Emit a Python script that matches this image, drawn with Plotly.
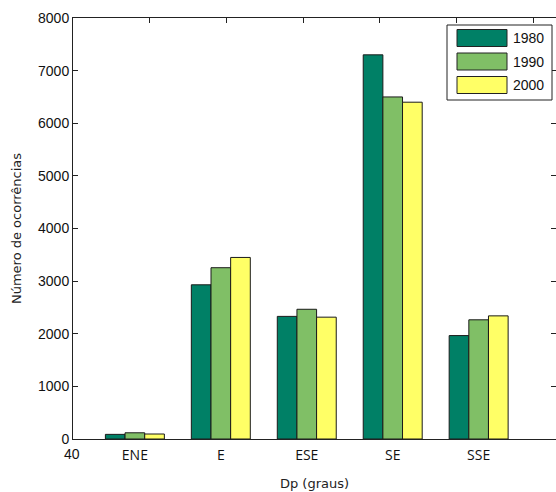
import plotly.graph_objects as go

categories = ["ENE", "E", "ESE", "SE", "SSE"]
years = ["1980", "1990", "2000"]
v1980 = [88, 2930, 2330, 7300, 1965]
v1990 = [118, 3255, 2465, 6500, 2265]
v2000 = [95, 3450, 2315, 6400, 2340]
series = [v1980, v1990, v2000]
colors = ["#008066", "#80bf66", "#ffff66"]
top_ticks = [50, 60, 70, 80, 90, 100]
y_ticks = [0, 1000, 2000, 3000, 4000, 5000, 6000, 7000, 8000]

W, H = 556, 492
L, R, T, B = 73, 0, 18, 53
pw, ph = W - L - R, H - T - B

def px(x):
    return (x - L) / pw

def py(y):
    return (H - B - y) / ph

xpos = list(range(len(categories)))
fig = go.Figure()
for name, vals, col in zip(years, series, colors):
    fig.add_trace(go.Bar(x=xpos, y=vals, name=name, marker=dict(color=col, line=dict(color="#1a1a1a", width=1)), showlegend=False))

fig.add_trace(go.Scatter(x=[40, 100], y=[0, 0], xaxis="x2", mode="markers", marker=dict(opacity=0), showlegend=False, hoverinfo="skip"))
fig.add_trace(go.Scatter(x=[0], y=[0], yaxis="y2", mode="markers", marker=dict(opacity=0), showlegend=False, hoverinfo="skip"))

font = "Liberation Sans, Arial, sans-serif"
title_font = dict(family="DejaVu Sans, sans-serif", size=13, color="#222")
fig.update_layout(
    width=W, height=H, margin=dict(l=L, r=R, t=T, b=B, autoexpand=False),
    paper_bgcolor="white", plot_bgcolor="white",
    barmode="group", bargap=0.314, bargroupgap=0,
    font=dict(family=font, size=13, color="#111"),
    xaxis=dict(range=[-0.72, 4.9], tickvals=xpos, ticktext=categories, ticks="", automargin=False,
               showgrid=False, zeroline=False, showline=True, linecolor="#222", linewidth=1,
               tickfont=dict(size=14, family="Open Sans, sans-serif"), ticklabelstandoff=3,
               title=dict(text="Dp (graus)", font=title_font, standoff=16)),
    xaxis2=dict(range=[40, 40 + pw / 76.7 * 10], overlaying="x", side="top", tickvals=top_ticks,
                showticklabels=False, ticks="inside", ticklen=5, tickcolor="#222", automargin=False,
                showgrid=False, zeroline=False, showline=True, linecolor="#222", linewidth=1),
    yaxis=dict(range=[0, 8000], tickvals=y_ticks, ticks="inside", ticklen=5, tickcolor="#222",
               showgrid=False, zeroline=False, showline=True, linecolor="#222", linewidth=1,
               tickfont=dict(size=14), automargin=False,
               title=dict(text="Número de ocorrências", font=title_font, standoff=13)),
    yaxis2=dict(range=[0, 8000], overlaying="y", side="right", tickvals=y_ticks,
                showticklabels=False, ticks="inside", ticklen=5, tickcolor="#222", automargin=False,
                showgrid=False, zeroline=False, showline=True, linecolor="#222", linewidth=1),
)

fig.add_annotation(x=px(72), y=py(454), xref="paper", yref="paper", text="40", showarrow=False,
                   font=dict(size=14), xanchor="center", yanchor="middle")

fig.add_shape(type="rect", xref="paper", yref="paper", x0=px(447), x1=px(552), y0=py(100), y1=py(25),
              line=dict(color="#222", width=1), fillcolor="white")
for i, (name, col) in enumerate(zip(years, colors)):
    cy = 38 + i * 23.5
    fig.add_shape(type="rect", xref="paper", yref="paper", x0=px(457), x1=px(507), y0=py(cy + 8.5), y1=py(cy - 8.5),
                  line=dict(color="#222", width=1), fillcolor=col)
    fig.add_annotation(x=px(511), y=py(cy), xref="paper", yref="paper", text=name, showarrow=False,
                       xanchor="left", yanchor="middle", font=dict(size=14))

fig.write_html("out.html", config={"displayModeBar": False},
               post_script="document.body.style.margin='0';document.body.style.overflow='hidden';")
